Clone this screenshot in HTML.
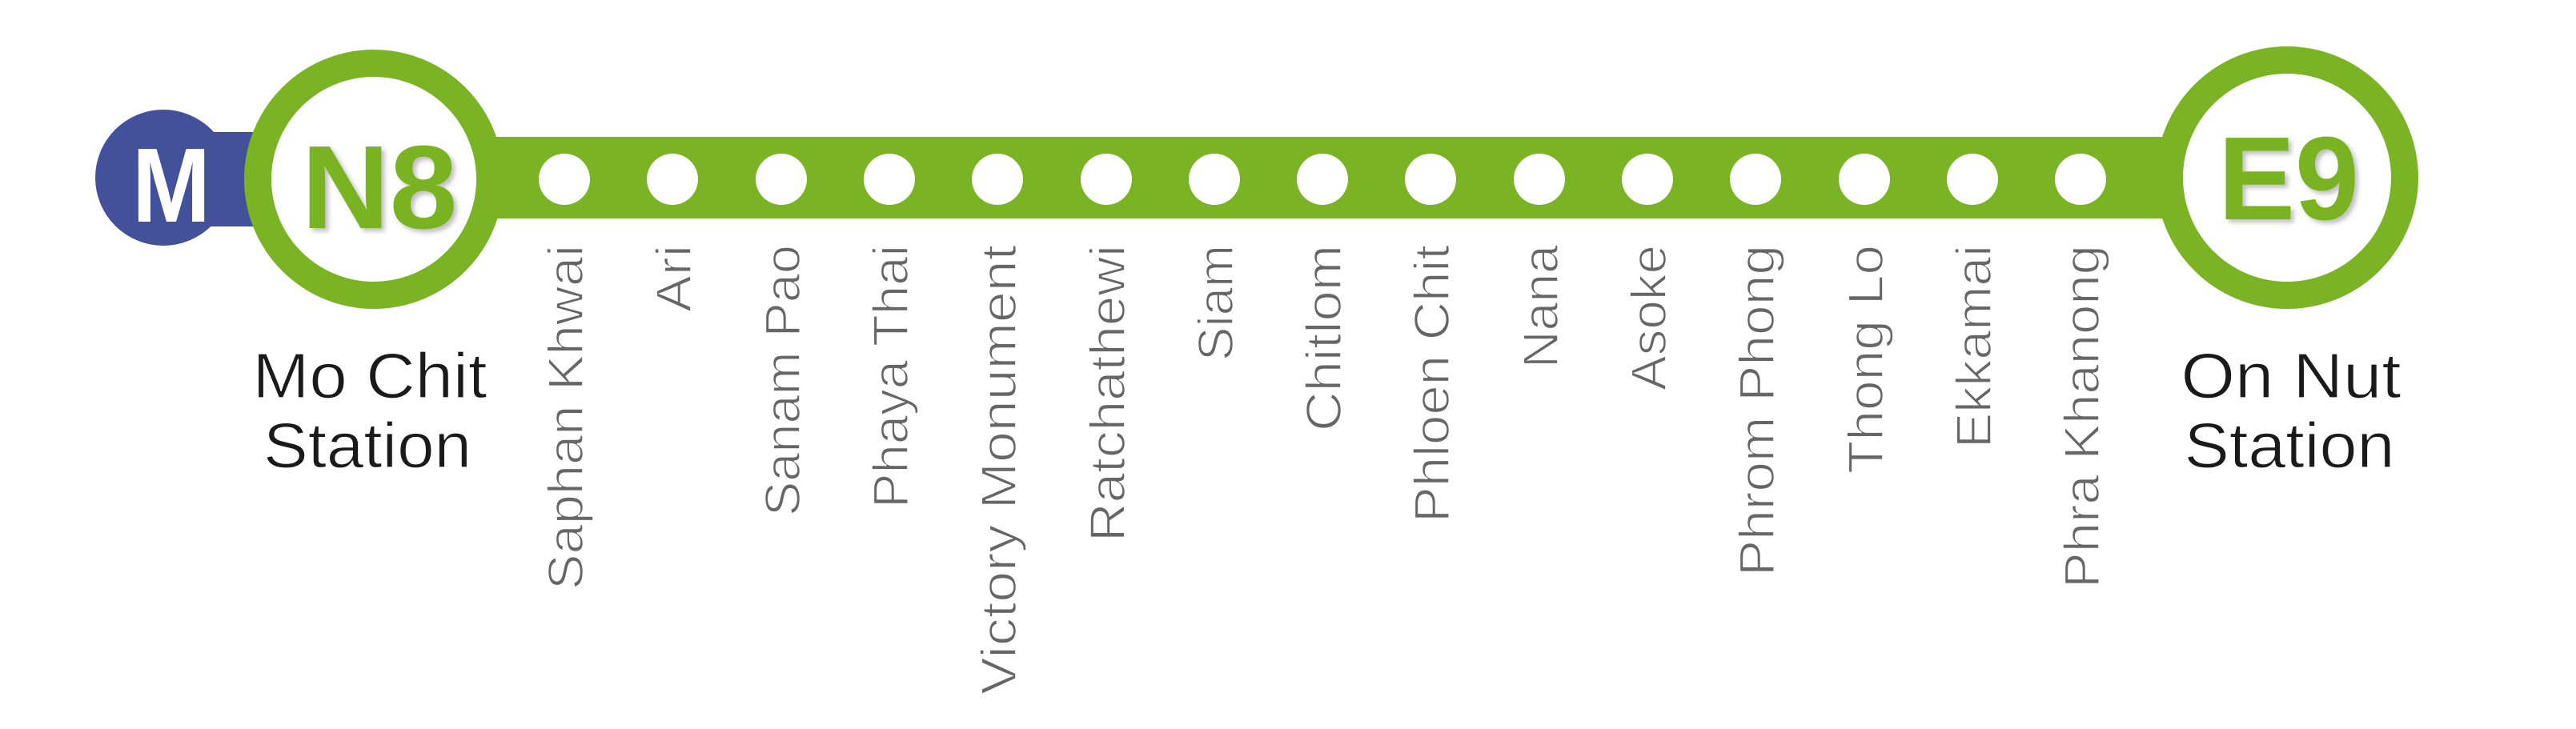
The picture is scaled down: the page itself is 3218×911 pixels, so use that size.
<!DOCTYPE html>
<html><head><meta charset="utf-8"><style>
html,body{margin:0;padding:0;background:#fff;}
svg{display:block;}
</style></head><body>
<svg width="3218" height="911" viewBox="0 0 3218 911" xmlns="http://www.w3.org/2000/svg">
<defs>
<filter id="sh" x="-10%" y="-10%" width="130%" height="130%">
<feDropShadow dx="4" dy="4" stdDeviation="3" flood-color="#000" flood-opacity="0.25"/>
</filter>
</defs>
<rect x="0" y="0" width="3218" height="911" fill="#fff"/>
<rect x="200" y="165" width="130" height="118" fill="#43509a"/>
<circle cx="204" cy="222" r="85" fill="#43509a"/>
<text x="214" y="277" text-anchor="middle" font-family="Liberation Sans, sans-serif" font-weight="bold" font-size="132" fill="#fff" textLength="98" lengthAdjust="spacingAndGlyphs">M</text>
<rect x="467" y="171" width="2390" height="102" fill="#7ab324"/>
<circle cx="467" cy="224" r="145" fill="#fff" stroke="#7ab324" stroke-width="34"/>
<text x="474" y="285" text-anchor="middle" font-family="Liberation Sans, sans-serif" font-weight="bold" font-size="148" fill="#7ab324" textLength="195" lengthAdjust="spacingAndGlyphs" filter="url(#sh)">N8</text>
<circle cx="2857" cy="222" r="147" fill="#fff" stroke="#7ab324" stroke-width="34"/>
<text x="2859" y="274" text-anchor="middle" font-family="Liberation Sans, sans-serif" font-weight="bold" font-size="148" fill="#7ab324" textLength="176" lengthAdjust="spacingAndGlyphs" filter="url(#sh)">E9</text>
<g fill="#fff">
<circle cx="705" cy="224" r="32"/><circle cx="840" cy="224" r="32"/><circle cx="976" cy="224" r="32"/>
<circle cx="1111" cy="224" r="32"/><circle cx="1246" cy="224" r="32"/><circle cx="1382" cy="224" r="32"/>
<circle cx="1517" cy="224" r="32"/><circle cx="1652" cy="224" r="32"/><circle cx="1787" cy="224" r="32"/>
<circle cx="1923" cy="224" r="32"/><circle cx="2058" cy="224" r="32"/><circle cx="2193" cy="224" r="32"/>
<circle cx="2329" cy="224" r="32"/><circle cx="2464" cy="224" r="32"/><circle cx="2599" cy="224" r="32"/>
</g>
<g font-family="Liberation Sans, sans-serif" font-size="62" fill="#666" stroke="#fff" stroke-width="1.6" text-anchor="end">
<text transform="translate(728,306) rotate(-90)" textLength="431" lengthAdjust="spacingAndGlyphs">Saphan Khwai</text>
<text transform="translate(863,306) rotate(-90)" textLength="84" lengthAdjust="spacingAndGlyphs">Ari</text>
<text transform="translate(999,306) rotate(-90)" textLength="339" lengthAdjust="spacingAndGlyphs">Sanam Pao</text>
<text transform="translate(1134,306) rotate(-90)" textLength="329" lengthAdjust="spacingAndGlyphs">Phaya Thai</text>
<text transform="translate(1269,306) rotate(-90)" textLength="562" lengthAdjust="spacingAndGlyphs">Victory Monument</text>
<text transform="translate(1405,306) rotate(-90)" textLength="371" lengthAdjust="spacingAndGlyphs">Ratchathewi</text>
<text transform="translate(1540,306) rotate(-90)" textLength="145" lengthAdjust="spacingAndGlyphs">Siam</text>
<text transform="translate(1675,306) rotate(-90)" textLength="233" lengthAdjust="spacingAndGlyphs">Chitlom</text>
<text transform="translate(1810,306) rotate(-90)" textLength="347" lengthAdjust="spacingAndGlyphs">Phloen Chit</text>
<text transform="translate(1946,306) rotate(-90)" textLength="154" lengthAdjust="spacingAndGlyphs">Nana</text>
<text transform="translate(2081,306) rotate(-90)" textLength="182" lengthAdjust="spacingAndGlyphs">Asoke</text>
<text transform="translate(2216,306) rotate(-90)" textLength="414" lengthAdjust="spacingAndGlyphs">Phrom Phong</text>
<text transform="translate(2352,306) rotate(-90)" textLength="286" lengthAdjust="spacingAndGlyphs">Thong Lo</text>
<text transform="translate(2487,306) rotate(-90)" textLength="254" lengthAdjust="spacingAndGlyphs">Ekkamai</text>
<text transform="translate(2622,306) rotate(-90)" textLength="429" lengthAdjust="spacingAndGlyphs">Phra Khanong</text>
</g>
<g font-family="Liberation Sans, sans-serif" font-size="80" fill="#1a1a1a" stroke="#fff" stroke-width="1.2" text-anchor="middle">
<text x="462" y="497" textLength="293" lengthAdjust="spacingAndGlyphs">Mo Chit</text>
<text x="459" y="584" textLength="260" lengthAdjust="spacingAndGlyphs">Station</text>
<text x="2862" y="497" textLength="275" lengthAdjust="spacingAndGlyphs">On Nut</text>
<text x="2860" y="584" textLength="263" lengthAdjust="spacingAndGlyphs">Station</text>
</g>
</svg>
</body></html>
